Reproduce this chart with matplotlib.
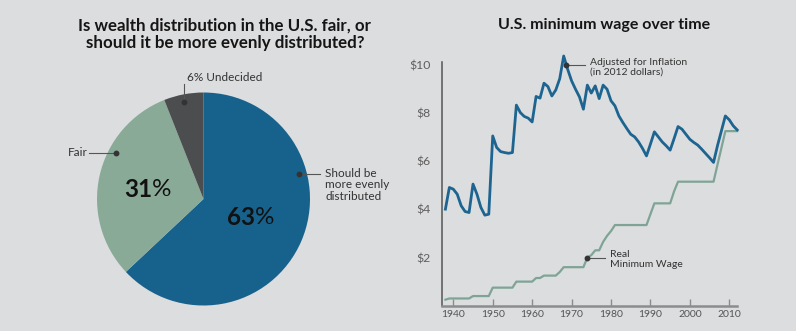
import numpy as np
import matplotlib
matplotlib.use("Agg")
import matplotlib.pyplot as plt

plt.rcParams['font.family'] = ['Lato', 'DejaVu Sans']

# ---- Survey data ----
pie_labels = ["Should be\nmore evenly\ndistributed", "Fair", "6% Undecided"]
pie_values = [63, 31, 6]
pie_colors = ["#17628d", "#8aaa98", "#4b4d4f"]

# ---- Minimum wage data ----
years = list(range(1938, 2013))
real_wage = [0.25, 0.30, 0.30, 0.30, 0.30, 0.30, 0.30, 0.40, 0.40, 0.40,
             0.40, 0.40, 0.75, 0.75, 0.75, 0.75, 0.75, 0.75, 1.00, 1.00,
             1.00, 1.00, 1.00, 1.15, 1.15, 1.25, 1.25, 1.25, 1.25, 1.40,
             1.60, 1.60, 1.60, 1.60, 1.60, 1.60, 2.00, 2.10, 2.30, 2.30,
             2.65, 2.90, 3.10, 3.35, 3.35, 3.35, 3.35, 3.35, 3.35, 3.35,
             3.35, 3.35, 3.80, 4.25, 4.25, 4.25, 4.25, 4.25, 4.75, 5.15,
             5.15, 5.15, 5.15, 5.15, 5.15, 5.15, 5.15, 5.15, 5.15, 5.85,
             6.55, 7.25, 7.25, 7.25, 7.25]
adjusted_wage = [4.01, 4.91, 4.84, 4.63, 4.15, 3.91, 3.87, 5.05, 4.63, 4.08,
                 3.76, 3.80, 7.05, 6.57, 6.40, 6.36, 6.33, 6.36, 8.33, 8.02,
                 7.86, 7.79, 7.63, 8.69, 8.62, 9.24, 9.10, 8.71, 8.96, 9.43,
                 10.37, 9.82, 9.34, 8.99, 8.67, 8.16, 9.16, 8.83, 9.13, 8.60,
                 9.16, 8.99, 8.51, 8.30, 7.88, 7.61, 7.36, 7.12, 7.01, 6.80,
                 6.53, 6.22, 6.71, 7.22, 7.01, 6.80, 6.64, 6.46, 6.94, 7.44,
                 7.33, 7.12, 6.91, 6.78, 6.67, 6.50, 6.32, 6.14, 5.95, 6.64,
                 7.26, 7.88, 7.72, 7.47, 7.30]
x_ticks = [1940, 1950, 1960, 1970, 1980, 1990, 2000, 2010]
y_ticks = [2, 4, 6, 8, 10]
y_ticklabels = ["$2", "$4", "$6", "$8", "$10"]

W, H = 796, 331
BG = "#dcdddf"
fig = plt.figure(figsize=(W / 100, H / 100), dpi=100, facecolor=BG)


def fx(px):
    return px / W


def fy(py):
    return 1 - py / H


# ---- Titles ----
fig.text(fx(225), fy(34), "Is wealth distribution in the U.S. fair, or\nshould it be more evenly distributed?",
         ha="center", va="center", fontsize=12.2, fontweight="bold", color="#151515",
         linespacing=1.1)
fig.text(fx(604.5), fy(25), "U.S. minimum wage over time", ha="center", va="center",
         fontsize=11.5, fontweight="bold", color="#151515")

# ---- Pie ----
cx, cy, r = 203.5, 199, 106.5
axp = fig.add_axes([fx(cx - r), fy(cy + r), (2 * r) / W, (2 * r) / H])
axp.set_facecolor(BG)
axp.pie(pie_values, colors=pie_colors, startangle=90, counterclock=False,
        radius=1, wedgeprops=dict(linewidth=0))
axp.set_xlim(-1, 1)
axp.set_ylim(-1, 1)
axp.set_aspect("equal")
axp.axis("off")

# percentage labels: bold number, plain percent sign
for split_x, y, pct in [(-0.484, 0.085, pie_values[1]), (0.484, -0.172, pie_values[0])]:
    axp.text(split_x, y, f"{pct}", ha="right", va="center", fontsize=17.5,
             fontweight="bold", color="#111111")
    axp.text(split_x - 0.005, y, "%", ha="left", va="center", fontsize=17.5,
             fontweight="normal", color="#111111")

lbl_kw = dict(fontsize=8.5, color="#333333", fontweight="normal", linespacing=1.05)
lead_kw = dict(color="#555555", lw=0.8, clip_on=False)
dot_kw = dict(marker="o", ms=3.2, color="#333333", clip_on=False)

# Undecided
d = ((184 - cx) / r, (cy - 101.7) / r)
axp.plot([d[0], d[0]], [d[1], (cy - 84) / r], **lead_kw)
axp.plot(*d, **dot_kw)
axp.text((187 - cx) / r, (cy - 77.7) / r, pie_labels[2], ha="left", va="center", **lbl_kw)
# Fair
d = ((116 - cx) / r, (cy - 152.7) / r)
axp.plot([(89 - cx) / r, d[0]], [d[1], d[1]], **lead_kw)
axp.plot(*d, **dot_kw)
axp.text((88 - cx) / r, d[1], pie_labels[1], ha="right", va="center", **lbl_kw)
# Should be more evenly distributed
d = ((299.3 - cx) / r, (cy - 174) / r)
axp.plot([d[0], (320 - cx) / r], [d[1], d[1]], **lead_kw)
axp.plot(*d, **dot_kw)
axp.text((325 - cx) / r, (cy - 168) / r, pie_labels[0], ha="left", va="top", **lbl_kw)

# ---- Line chart ----
ax = fig.add_axes([fx(441.7), fy(305.7), (736.7 - 441.7) / W, (10.45 * 24.08) / H])
ax.set_facecolor(BG)
ax.set_xlim(1937.06, 2011.88)
ax.set_ylim(0, 10.45)

ax.plot(years, real_wage, color="#7fa495", lw=1.6, clip_on=False, solid_joinstyle="round")
ax.plot(years, adjusted_wage, color="#1d6590", lw=2.0, clip_on=False, solid_joinstyle="round")

for s in ["top", "right"]:
    ax.spines[s].set_visible(False)
ax.spines["left"].set_color("#555555")
ax.spines["left"].set_linewidth(1.1)
ax.spines["left"].set_bounds(0, 10.1)
ax.spines["bottom"].set_color("#8c8c8c")
ax.spines["bottom"].set_linewidth(1.8)

ax.set_xticks(x_ticks)
ax.set_xticklabels([str(t) for t in x_ticks])
ax.set_yticks(y_ticks)
ax.set_yticklabels(y_ticklabels)
ax.tick_params(axis="x", direction="in", length=5, width=1, color="#8c8c8c",
               labelsize=7.5, labelcolor="#555555", pad=3)
ax.tick_params(axis="y", length=0, labelsize=8.8, labelcolor="#5e5e5e", pad=8)

ann_kw = dict(fontsize=7.5, color="#333333", fontweight="normal", linespacing=1.05,
              ha="left", va="top")
# Adjusted for inflation
ax.plot([1968.5, 1973.4], [10.0, 10.0], color="#555555", lw=0.8)
ax.plot(1968.5, 10.0, marker="o", ms=3.2, color="#333333")
ax.text(1974.7, 10.28, "Adjusted for Inflation\n(in 2012 dollars)", **ann_kw)
# Real minimum wage
ax.plot([1974, 1978.5], [2.0, 2.0], color="#555555", lw=0.8)
ax.plot(1974, 2.0, marker="o", ms=3.2, color="#333333")
ax.text(1979.7, 2.3, "Real\nMinimum Wage", **ann_kw)

fig.savefig("out.png", dpi=100, facecolor=BG)
